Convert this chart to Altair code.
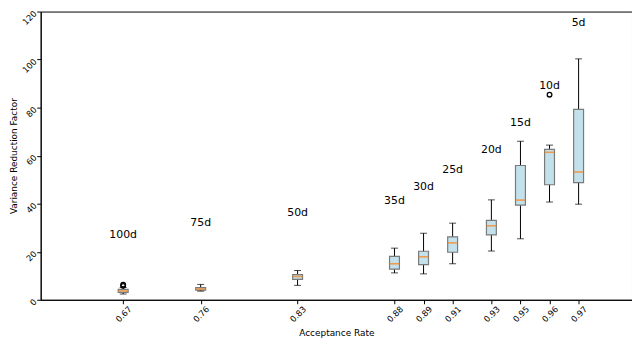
import altair as alt
import pandas as pd

# ---- data ----
rate_labels = ["0.67", "0.76", "0.83", "0.88", "0.89", "0.91", "0.93", "0.95", "0.96", "0.97"]
positions = [12, 20, 30, 40, 43, 46, 50, 53, 56, 59]
dims = ["100d", "75d", "50d", "35d", "30d", "25d", "20d", "15d", "10d", "5d"]
whisker_low = [2.4, 3.6, 6.0, 11.2, 10.8, 15.0, 20.3, 25.4, 40.7, 39.8]
q1 = [3.1, 4.0, 8.5, 12.8, 14.6, 19.8, 27.0, 39.4, 47.9, 48.8]
median = [3.7, 4.5, 9.7, 15.0, 17.9, 23.7, 30.8, 41.5, 61.4, 53.2]
q3 = [4.3, 5.1, 10.5, 18.1, 20.2, 26.2, 33.1, 55.9, 62.6, 79.3]
whisker_high = [5.1, 6.4, 12.2, 21.5, 27.7, 31.9, 41.6, 66.0, 64.4, 100.3]
label_y = [27.0, 32.0, 36.3, 41.1, 46.9, 54.2, 62.3, 73.7, 89.0, 115.4]
outlier_pos = [12, 12, 56]
outlier_val = [5.8, 6.3, 85.4]

df = pd.DataFrame({
    "pos": positions, "label": rate_labels, "dim": dims,
    "lo": whisker_low, "q1": q1, "med": median, "q3": q3, "hi": whisker_high,
    "ly": label_y,
})
out = pd.DataFrame({"pos": outlier_pos, "val": outlier_val})

pos_str = ",".join(str(p) for p in positions)
lab_str = ",".join("'" + l + "'" for l in rate_labels)
label_expr = f"[{lab_str}][indexof([{pos_str}], datum.value)]"

xscale = alt.Scale(domain=[4, 64], nice=False, zero=False)
yscale = alt.Scale(domain=[0, 120], nice=False)

x_axis = alt.Axis(values=positions, labelExpr=label_expr, labelAngle=315,
                  title="Acceptance Rate", grid=False, labelPadding=10,
                  labelAlign="center", labelBaseline="middle", titlePadding=5,
                  labelFontSize=8.5)
y_axis = alt.Axis(values=[0, 20, 40, 60, 80, 100, 120], labelAngle=315, grid=False,
                  title="Variance Reduction Factor", labelAlign="right",
                  labelBaseline="middle", titlePadding=2, labelPadding=2,
                  labelFontSize=8.5)

base = alt.Chart(df)

x_enc = alt.X("pos:Q", scale=xscale, axis=x_axis)

whisk = base.mark_rule(color="black", strokeWidth=1).encode(
    x=x_enc, y=alt.Y("lo:Q", scale=yscale, axis=y_axis), y2="hi:Q")

box = base.mark_bar(size=10, fill="#c3e1eb", stroke="#7a7a7a", strokeWidth=1.2,
                    orient="vertical").encode(
    x="pos:Q", y="q1:Q", y2="q3:Q")

cap_lo = base.mark_tick(orient="horizontal", size=7, thickness=1, color="black").encode(
    x="pos:Q", y="lo:Q")
cap_hi = base.mark_tick(orient="horizontal", size=7, thickness=1, color="black").encode(
    x="pos:Q", y="hi:Q")

med = base.mark_tick(orient="horizontal", size=10, thickness=1.6, color="#ff7f0e").encode(
    x="pos:Q", y="med:Q")

pts = alt.Chart(out).mark_point(shape="circle", size=22, filled=False, color="black",
                                strokeWidth=1.3, opacity=1).encode(
    x="pos:Q", y="val:Q")

txt = base.mark_text(fontSize=11, font="DejaVu Sans", color="black",
                     align="center", baseline="middle").encode(
    x="pos:Q", y="ly:Q", text="dim:N")

chart = alt.layer(whisk, box, cap_lo, cap_hi, med, pts, txt).properties(
    width=597, height=291,
    autosize=alt.AutoSizeParams(type="none"),
    padding={"left": 33, "top": 2, "right": 0, "bottom": 38},
).configure_view(
    stroke="black", strokeWidth=1
).configure_axis(
    domainColor="black", tickColor="black", tickSize=4, labelColor="black",
    titleColor="black", titleFontSize=9, labelFont="DejaVu Sans",
    titleFont="DejaVu Sans", titleFontWeight="normal", domainWidth=1
)

chart.save("out.html", embed_options={"renderer": "svg", "actions": False})
